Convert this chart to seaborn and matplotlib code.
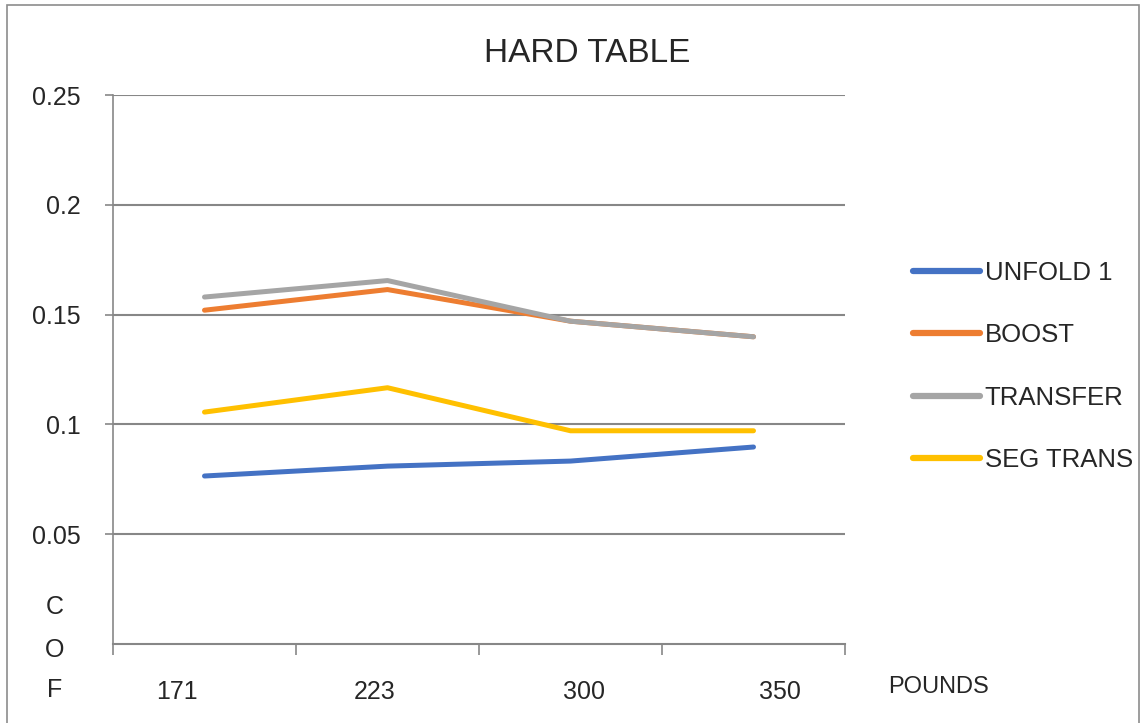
import matplotlib
matplotlib.use("Agg")
import matplotlib.pyplot as plt
import matplotlib.transforms as mtransforms
import seaborn as sns
import pandas as pd
from matplotlib.patches import Rectangle
from matplotlib.ticker import FixedLocator, NullFormatter

categories = ["171", "223", "300", "350"]
unfold1 = [0.0765, 0.081, 0.0833, 0.0897]
boost = [0.152, 0.1614, 0.147, 0.1399]
transfer = [0.158, 0.1655, 0.147, 0.1399]
seg_trans = [0.1056, 0.1167, 0.0971, 0.0971]
series_names = ["UNFOLD 1", "BOOST", "TRANSFER", "SEG TRANS"]
colors = ["#4472C4", "#ED7D31", "#A5A5A5", "#FFC000"]
y_ticks = [0.05, 0.1, 0.15, 0.2, 0.25]
y_tick_labels = ["0.05", "0.1", "0.15", "0.2", "0.25"]

rows = []
for name, vals in zip(series_names, [unfold1, boost, transfer, seg_trans]):
    for c, v in zip(categories, vals):
        rows.append({"POUNDS": c, "COF": v, "series": name})
df = pd.DataFrame(rows)

sns.set_theme(style="white")
plt.rcParams["font.family"] = ["Liberation Sans", "DejaVu Sans"]

W, H = 1142, 723
fig = plt.figure(figsize=(W / 100, H / 100), dpi=100)
ax = fig.add_axes([113 / W, 1 - 644 / H, (845 - 113) / W, (644 - 95) / H])

sns.lineplot(data=df, x="POUNDS", y="COF", hue="series", hue_order=series_names,
             palette=colors, linewidth=3.6, ax=ax, sort=False, legend=True)

ax.set_xlim(-0.5, 3.5)
ax.set_ylim(0, 0.25)
grid_c = "#878787"
ax.set_yticks(y_ticks)
ax.set_yticklabels(y_tick_labels, fontsize=18)
ax.yaxis.grid(True, color=grid_c, linewidth=1.5)
ax.xaxis.grid(False)
ax.tick_params(axis="y", length=6, width=1.2, color=grid_c, pad=17, left=True)

ax.set_xticks(range(len(categories)))
ax.set_xticklabels(categories, fontsize=18)
ax.tick_params(axis="x", which="major", length=0, pad=26)
ax.xaxis.set_minor_locator(FixedLocator([-0.5, 0.5, 1.5, 2.5, 3.5]))
ax.xaxis.set_minor_formatter(NullFormatter())
ax.tick_params(axis="x", which="minor", length=8, width=1.2, color=grid_c, bottom=True)

# the reference spreads its category labels slightly wider than the bands
x_label_shift_px = [-28, -13, 13, 26]
for lab, dx in zip(ax.get_xticklabels(), x_label_shift_px):
    lab.set_transform(lab.get_transform() +
                      mtransforms.ScaledTranslation(dx / 100, 0, fig.dpi_scale_trans))

for s in ["top", "right"]:
    ax.spines[s].set_visible(False)
ax.spines["left"].set_color(grid_c)
ax.spines["left"].set_linewidth(1.2)
ax.spines["bottom"].set_color(grid_c)
ax.spines["bottom"].set_linewidth(1.5)
ax.set_xlabel("")
ax.set_ylabel("")

leg = ax.legend(loc="upper left", bbox_to_anchor=(900 / W, 1 - 248 / H),
                bbox_transform=fig.transFigure, frameon=False, fontsize=18.5,
                handlelength=2.6, handletextpad=0.2, labelspacing=1.5,
                borderpad=0)
for line in leg.get_lines():
    line.set_linewidth(4.5)

fig.text(587 / W, 1 - 53 / H, "HARD TABLE", fontsize=24, ha="center", va="center")
fig.text(55 / W, 1 - 607 / H, "C", fontsize=18, ha="center", va="center")
fig.text(55 / W, 1 - 650 / H, "O", fontsize=18, ha="center", va="center")
fig.text(55 / W, 1 - 690 / H, "F", fontsize=18, ha="center", va="center")
fig.text(888 / W, 1 - 687 / H, "POUNDS", fontsize=17, ha="left", va="center")

fig.patches.append(Rectangle((7 / W, -0.01), (1139 - 7) / W, 1 - 5 / H + 0.01,
                             transform=fig.transFigure, fill=False,
                             edgecolor="#8c8c8c", linewidth=1.2))

fig.savefig("out.png", dpi=100)
